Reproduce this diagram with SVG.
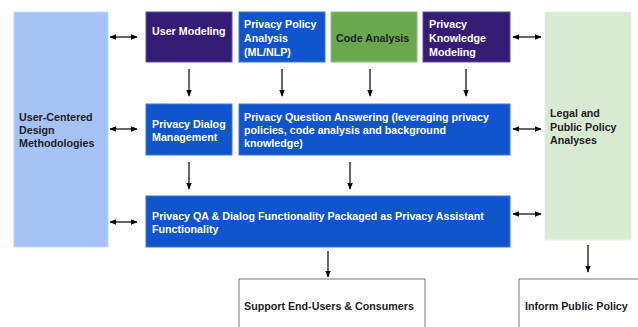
<svg xmlns="http://www.w3.org/2000/svg" width="638" height="327" viewBox="0 0 638 327">
<style>
text{font-family:"Liberation Sans",Arial,sans-serif;font-weight:bold;font-size:10.7px}
.w{fill:#ffffff}.k{fill:#222222}
.blue{fill:#1155cc;stroke:#3d78d8;stroke-width:1}
.purple{fill:#351c75;stroke:#674ea7;stroke-width:1}
.green{fill:#6aa84f;stroke:#8fc27a;stroke-width:1}
.lb{fill:#a4c2f4;stroke:#c9daf8;stroke-width:1}
.lg{fill:#d9ead3;stroke:#e6f2e1;stroke-width:1}
.out{fill:#ffffff;stroke:#777777;stroke-width:1}
.c{stroke:#000;stroke-width:1.2;fill:none}
</style>
<defs>
<marker id="ah" viewBox="0 0 10 10" refX="9" refY="5" markerWidth="7" markerHeight="7" orient="auto-start-reverse" markerUnits="userSpaceOnUse"><path d="M0,1 L10,5 L0,9 Z" fill="#000"/></marker>
</defs>
<rect width="638" height="327" fill="#ffffff"/>
<g id="ucd"><rect class="lb" x="14" y="12" width="94" height="235"/><text class="k" x="19" y="121">User-Centered</text><text class="k" x="19" y="134">Design</text><text class="k" x="19" y="147">Methodologies</text></g>
<g id="legal"><rect class="lg" x="545" y="12" width="86" height="228"/><text class="k" x="550" y="117">Legal and</text><text class="k" x="550" y="131">Public Policy</text><text class="k" x="550" y="144">Analyses</text></g>
<g id="usermodeling"><rect class="purple" x="146" y="12" width="86" height="50"/><text class="w" x="152" y="35">User Modeling</text></g>
<g id="ppa"><rect class="blue" x="239" y="12" width="86" height="50"/><text class="w" x="244" y="28">Privacy Policy</text><text class="w" x="244" y="42">Analysis</text><text class="w" x="244" y="56">(ML/NLP)</text></g>
<g id="code"><rect class="green" x="331" y="12" width="86" height="50"/><text class="k" x="336" y="42">Code Analysis</text></g>
<g id="pkm"><rect class="purple" x="423" y="12" width="87" height="50"/><text class="w" x="429" y="28">Privacy</text><text class="w" x="429" y="42">Knowledge</text><text class="w" x="429" y="56">Modeling</text></g>
<g id="pdm"><rect class="blue" x="146" y="104" width="86" height="51"/><text class="w" x="152" y="128">Privacy Dialog</text><text class="w" x="152" y="141">Management</text></g>
<g id="pqa"><rect class="blue" x="239" y="104" width="271" height="51"/><text class="w" x="244" y="121">Privacy Question Answering (leveraging privacy</text><text class="w" x="244" y="134">policies, code analysis and background</text><text class="w" x="244" y="147">knowledge)</text></g>
<g id="pkg"><rect class="blue" x="146" y="196" width="364" height="51"/><text class="w" x="152" y="220">Privacy QA &amp; Dialog Functionality Packaged as Privacy Assistant</text><text class="w" x="152" y="233">Functionality</text></g>
<g id="support"><rect class="out" x="239" y="279" width="186" height="60"/><text class="k" x="244" y="310">Support End-Users &amp; Consumers</text></g>
<g id="inform"><rect class="out" x="519" y="279" width="130" height="60"/><text class="k" x="525" y="310">Inform Public Policy</text></g>
<g id="connectors">
<line class="c" x1="110" y1="37" x2="137" y2="37" marker-start="url(#ah)" marker-end="url(#ah)"/>
<line class="c" x1="110" y1="129" x2="137" y2="129" marker-start="url(#ah)" marker-end="url(#ah)"/>
<line class="c" x1="110" y1="222" x2="137" y2="222" marker-start="url(#ah)" marker-end="url(#ah)"/>
<line class="c" x1="513" y1="37" x2="541" y2="37" marker-start="url(#ah)" marker-end="url(#ah)"/>
<line class="c" x1="513" y1="129" x2="541" y2="129" marker-start="url(#ah)" marker-end="url(#ah)"/>
<line class="c" x1="513" y1="214" x2="541" y2="214" marker-start="url(#ah)" marker-end="url(#ah)"/>
<line class="c" x1="189" y1="69" x2="189" y2="96" marker-end="url(#ah)"/>
<line class="c" x1="282" y1="69" x2="282" y2="96" marker-end="url(#ah)"/>
<line class="c" x1="370" y1="69" x2="370" y2="96" marker-end="url(#ah)"/>
<line class="c" x1="466" y1="69" x2="466" y2="96" marker-end="url(#ah)"/>
<line class="c" x1="189" y1="162" x2="189" y2="189" marker-end="url(#ah)"/>
<line class="c" x1="350" y1="162" x2="350" y2="189" marker-end="url(#ah)"/>
<line class="c" x1="328" y1="251" x2="328" y2="277" marker-end="url(#ah)"/>
<line class="c" x1="588" y1="245" x2="588" y2="272" marker-end="url(#ah)"/>
</g>
</svg>
